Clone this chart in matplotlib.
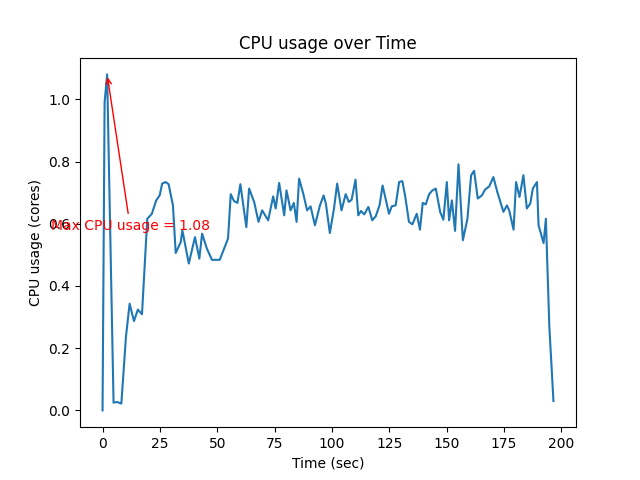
import matplotlib
matplotlib.use("Agg")
import matplotlib.pyplot as plt
import numpy as np

time_sec = [0, 0.9, 2.0, 4.8, 6.3, 8.2, 10.2, 11.8, 13.7, 15.4, 17.2, 19.5, 21.5, 23.4, 24.9,
            26.0, 27.5, 28.8, 30.7, 31.9, 34.1, 34.8, 37.6, 40.3, 42.2, 43.4, 45.5, 47.7,
            51.1, 54.7, 55.9, 57.3, 58.8, 60.1, 62.7, 63.9, 66.1, 68.0, 69.6, 72.2, 74.4,
            75.5, 77.0, 79.2, 80.2, 82.0, 83.4, 84.6, 85.7, 87.5, 89.2, 90.7, 92.6, 94.8,
            96.4, 97.4, 99.1, 100.9, 102.3, 104.2, 106.0, 107.4, 108.6, 110.3, 111.5, 112.7,
            114.1, 115.9, 117.6, 119.1, 120.8, 122.1, 124.9, 126.1, 127.8, 129.3, 130.7,
            131.9, 133.6, 135.1, 137.0, 138.4, 139.6, 140.9, 142.4, 143.8, 145.3, 147.2,
            148.6, 150.1, 151.1, 152.3, 153.7, 155.2, 157.1, 159.1, 160.7, 162.0, 163.6,
            165.4, 166.8, 168.6, 170.4, 172.2, 174.8, 176.3, 177.3, 179.2, 180.3, 181.8,
            183.5, 185.0, 186.5, 187.6, 189.4, 190.1, 192.3, 193.3, 194.8, 196.6]
cpu_usage = [0.0, 0.99, 1.08, 0.025, 0.027, 0.022, 0.236, 0.343, 0.287, 0.324, 0.309, 0.616,
             0.632, 0.675, 0.691, 0.729, 0.734, 0.727, 0.659, 0.506, 0.541, 0.579, 0.472,
             0.557, 0.488, 0.568, 0.52, 0.484, 0.484, 0.552, 0.695, 0.673, 0.667, 0.727,
             0.589, 0.713, 0.670, 0.606, 0.643, 0.611, 0.688, 0.649, 0.731, 0.627, 0.707,
             0.643, 0.667, 0.606, 0.745, 0.697, 0.643, 0.656, 0.595, 0.659, 0.691, 0.664,
             0.570, 0.648, 0.729, 0.643, 0.695, 0.670, 0.677, 0.742, 0.627, 0.641, 0.630,
             0.654, 0.611, 0.624, 0.660, 0.723, 0.632, 0.656, 0.659, 0.734, 0.737, 0.691,
             0.606, 0.598, 0.632, 0.581, 0.667, 0.662, 0.695, 0.707, 0.713, 0.638, 0.613,
             0.734, 0.611, 0.675, 0.577, 0.791, 0.547, 0.616, 0.756, 0.770, 0.681, 0.691,
             0.710, 0.720, 0.750, 0.700, 0.638, 0.659, 0.643, 0.581, 0.734, 0.686, 0.756,
             0.649, 0.665, 0.713, 0.734, 0.595, 0.538, 0.616, 0.27, 0.03]

fig, ax = plt.subplots(figsize=(6.4, 4.8), dpi=100)
ax.plot(time_sec, cpu_usage)
i_max = int(np.argmax(cpu_usage))
t_max, v_max = time_sec[i_max], cpu_usage[i_max]
ax.annotate(f"Max CPU usage = {v_max:.2f}", xy=(t_max, v_max),
            xytext=(t_max + 10, v_max - 0.5), ha="center", color="red",
            arrowprops=dict(color="red", arrowstyle="->"))
ax.set_title("CPU usage over Time")
ax.set_xlabel("Time (sec)")
ax.set_ylabel("CPU usage (cores)")
fig.savefig("out.png")
